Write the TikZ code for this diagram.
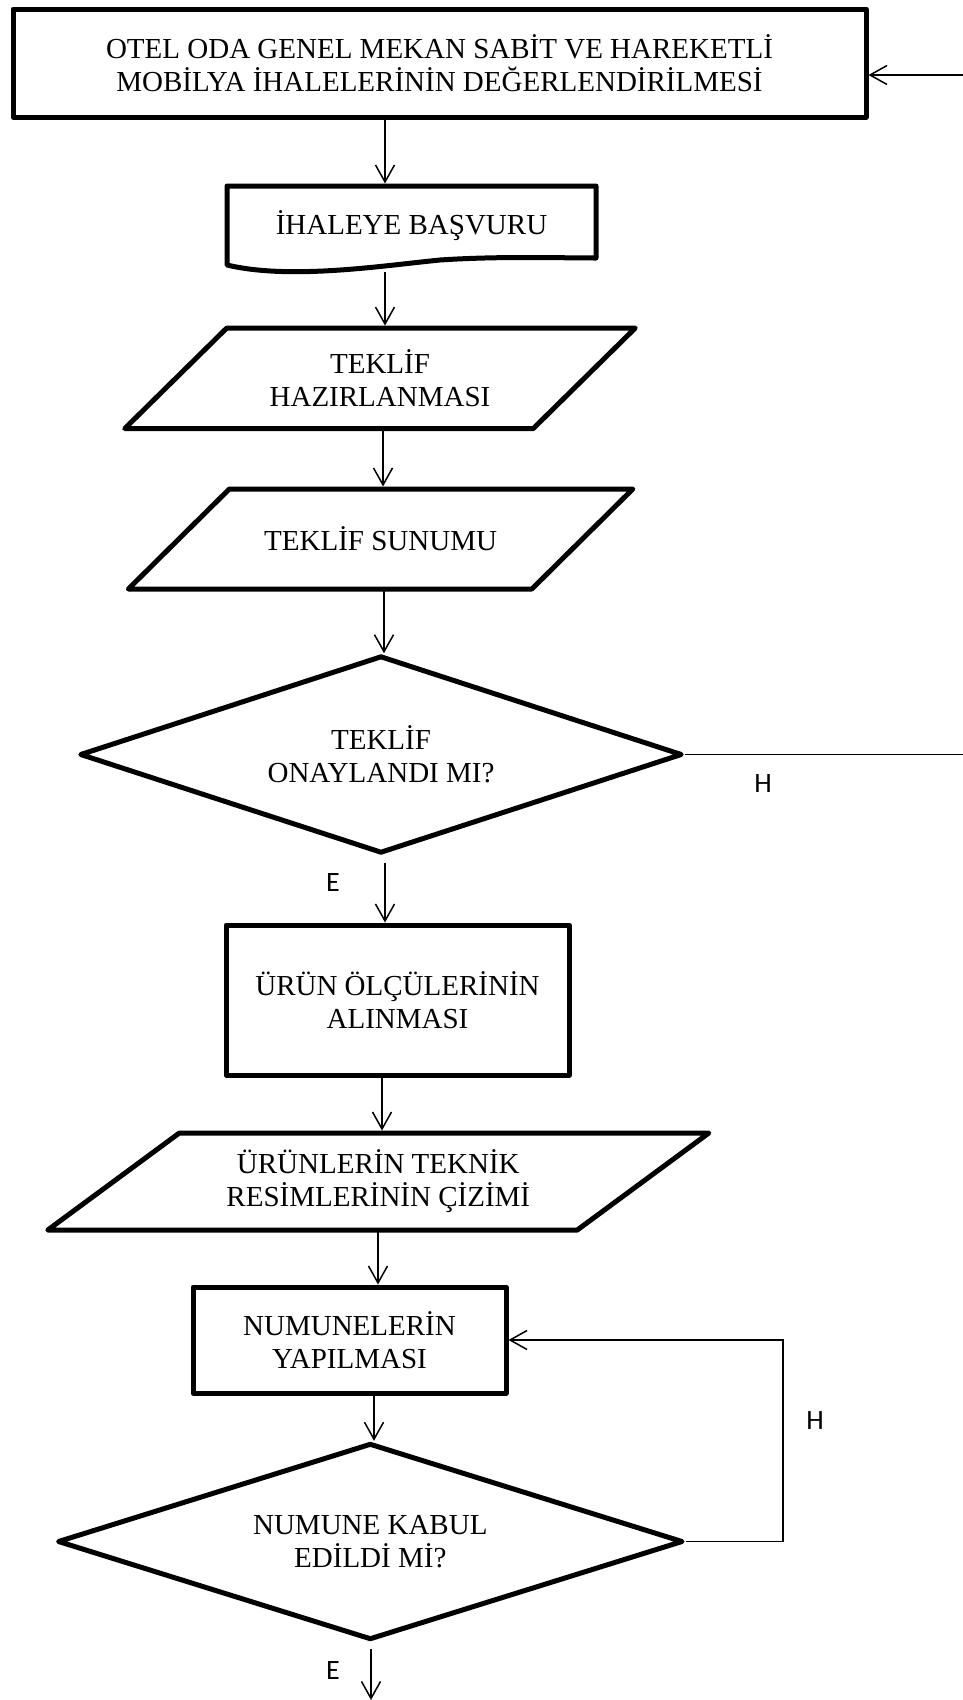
\documentclass[tikz,border=0pt]{standalone}
\usepackage{fontspec}
\setmainfont{Liberation Serif}
\newfontfamily\labelfont{Carlito}
\usetikzlibrary{shapes.geometric,arrows.meta,calc}

\begin{document}
\begin{tikzpicture}[x=1pt,y=-1pt,
  outline/.style={line width=5pt,line join=round},
  txt/.style={font=\fontsize{29}{33}\selectfont, align=center, inner sep=0pt},
  stepbox/.style={txt, draw, outline, rectangle},
  slantbox/.style={txt, rectangle, outer sep=0pt},
  decision/.style={txt, draw, outline, diamond, aspect=3},
  flow/.style={line width=1.5pt},
  arr/.style={flow, -{Straight Barb[length=17pt,width=19pt]}},
  lbl/.style={font=\labelfont\fontsize{28}{30}\selectfont, inner sep=0pt}]

\fill[white] (0,0) rectangle (963,1700);
\useasboundingbox (0,0) rectangle (963,1700);

% process steps
\node[stepbox, minimum width=853pt, minimum height=108pt] (top) at (439.5,63)
  {OTEL ODA GENEL MEKAN SABİT VE HAREKETLİ\\MOBİLYA İHALELERİNİN DEĞERLENDİRİLMESİ};

% document shape with wavy lower edge
\node[txt, rectangle, outer sep=0pt, minimum width=369pt, minimum height=79pt] (doc) at (411.5,225.5) {İHALEYE BAŞVURU};
\draw[outline] (doc.south west) -- (doc.north west) -- (doc.north east) -- ([yshift=7pt]doc.south east)
  .. controls ($(doc.south west)+(333,-7)$) and ($(doc.south west)+(273,-9)$) .. ($(doc.south west)+(213,-5)$)
  .. controls ($(doc.south west)+(153,1)$) and ($(doc.south west)+(63,15)$) .. (doc.south west) -- cycle;

% input/output parallelograms
\node[slantbox, minimum width=408.5pt, minimum height=100.5pt] (p1) at (380,378.3) {TEKLİF\\HAZIRLANMASI};
\draw[outline] ([xshift=-51pt]p1.south west) -- ([xshift=-51pt]p1.south east)
  -- ([xshift=51pt]p1.north east) -- ([xshift=51pt]p1.north west) -- cycle;

\node[slantbox, minimum width=403.5pt, minimum height=100pt] (p2) at (380.6,539) {TEKLİF SUNUMU};
\draw[outline] ([xshift=-50.5pt]p2.south west) -- ([xshift=-50.5pt]p2.south east)
  -- ([xshift=50.5pt]p2.north east) -- ([xshift=50.5pt]p2.north west) -- cycle;

\node[decision, minimum width=602.5pt, minimum height=197.5pt] (d1) at (381,754.5) {TEKLİF\\ONAYLANDI MI?};

\node[stepbox, minimum width=343pt, minimum height=150pt] (r2) at (397.5,1000) {ÜRÜN ÖLÇÜLERİNİN\\ALINMASI};

\node[slantbox, minimum width=529.5pt, minimum height=97pt] (p3) at (378.3,1181.5) {ÜRÜNLERİN TEKNİK\\RESİMLERİNİN ÇİZİMİ};
\draw[outline] ([xshift=-65.8pt]p3.south west) -- ([xshift=-65.8pt]p3.south east)
  -- ([xshift=65.8pt]p3.north east) -- ([xshift=65.8pt]p3.north west) -- cycle;

\node[stepbox, minimum width=313pt, minimum height=106pt] (r3) at (349.5,1340) {NUMUNELERİN\\YAPILMASI};

\node[decision, minimum width=625.5pt, minimum height=196.5pt] (d2) at (370.3,1541.5) {NUMUNE KABUL\\EDİLDİ Mİ?};

% helper coordinates for connector columns and free ends
\coordinate (c1) at (385,0);
\coordinate (c2) at (385,0);
\coordinate (c3) at (383,0);
\coordinate (c4) at (384,0);
\coordinate (c5) at (385,0);
\coordinate (c6) at (382,0);
\coordinate (c7) at (378,0);
\coordinate (c8) at (374,0);
\coordinate (c9) at (371,0);
\coordinate (feedin) at (963,75);
\coordinate (noexit) at (963,0);
\coordinate (loopx) at (783,0);
\coordinate (end) at (371,1700);

% connectors
\draw[arr] (feedin) -- (feedin -| top.east);
\draw[arr, shorten >=2.5pt] (top.south -| c1) -- (doc.north -| c1);
\draw[arr, shorten <=7pt, shorten >=2.5pt] (doc.south -| c2) -- (p1.north -| c2);
\draw[arr, shorten >=2.5pt] (p1.south -| c3) -- (p2.north -| c3);
\draw[arr] (p2.south -| c4) -- (d1.north -| c4);
\draw[flow] (d1.east) -- (d1.east -| noexit);
\draw[arr, shorten <=7pt] (d1.south -| c5) -- (r2.north -| c5);
\draw[arr, shorten >=2.5pt] (r2.south -| c6) -- (p3.north -| c6);
\draw[arr] (p3.south -| c7) -- (r3.north -| c7);
\draw[arr] (r3.south -| c8) -- (d2.north -| c8);
\draw[arr] (d2.east) -- (d2.east -| loopx) |- (r3.east);
\draw[arr, shorten <=7pt] (d2.south -| c9) -- (end);

% branch labels
\node[lbl] (h1) at (763,784) {H};
\node[lbl] (e1) at (333,883) {E};
\node[lbl] (h2) at (815,1420) {H};
\node[lbl] (e2) at (333,1670) {E};
\end{tikzpicture}
\end{document}
